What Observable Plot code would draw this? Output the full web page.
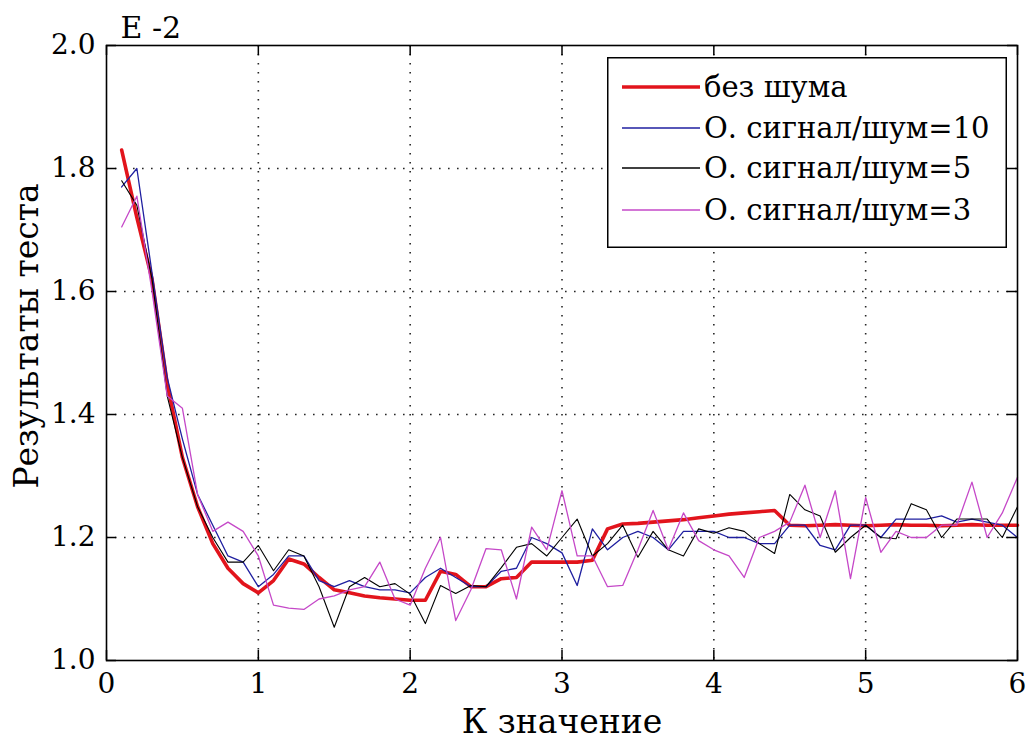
<!DOCTYPE html>
<html>
<head>
<meta charset="utf-8">
<script src="https://cdn.jsdelivr.net/npm/d3@7"></script>
<script src="https://cdn.jsdelivr.net/npm/@observablehq/plot@0.6"></script>
<style>
  html, body { margin: 0; padding: 0; background: #fff; }
  #wrap { position: relative; width: 1029px; height: 744px; }
  #legend { position: absolute; left: 607px; top: 57px; }
</style>
</head>
<body>
<div id="wrap"></div>
<script>
// ---- data ----
const xValues = [0.1,0.2,0.3,0.4,0.5,0.6,0.7,0.8,0.9,1.0,
  1.1,1.2,1.3,1.4,1.5,1.6,1.7,1.8,1.9,2.0,
  2.1,2.2,2.3,2.4,2.5,2.6,2.7,2.8,2.9,3.0,
  3.1,3.2,3.3,3.4,3.5,3.6,3.7,3.8,3.9,4.0,
  4.1,4.2,4.3,4.4,4.5,4.6,4.7,4.8,4.9,5.0,
  5.1,5.2,5.3,5.4,5.5,5.6,5.7,5.8,5.9,6.0];

const noNoise = [1.83,1.72,1.62,1.45,1.33,1.25,1.19,1.15,1.125,1.11,
  1.13,1.165,1.157,1.135,1.115,1.11,1.105,1.102,1.10,1.098,
  1.098,1.145,1.14,1.12,1.12,1.133,1.135,1.16,1.16,1.16,
  1.16,1.163,1.214,1.222,1.223,1.225,1.227,1.229,1.232,1.235,
  1.238,1.24,1.242,1.244,1.22,1.219,1.22,1.221,1.22,1.219,
  1.22,1.221,1.22,1.22,1.219,1.22,1.221,1.22,1.22,1.22];

const snr10 = [1.77,1.80,1.63,1.46,1.36,1.27,1.22,1.17,1.16,1.12,
  1.14,1.17,1.17,1.13,1.12,1.13,1.12,1.115,1.115,1.11,
  1.135,1.15,1.135,1.12,1.12,1.145,1.15,1.20,1.19,1.175,
  1.122,1.214,1.18,1.20,1.21,1.20,1.18,1.21,1.21,1.21,
  1.20,1.20,1.19,1.19,1.22,1.22,1.187,1.18,1.22,1.22,
  1.20,1.23,1.23,1.23,1.235,1.225,1.23,1.225,1.22,1.20];

const snr5 = [1.78,1.74,1.62,1.43,1.33,1.25,1.20,1.16,1.16,1.187,
  1.146,1.18,1.17,1.12,1.054,1.12,1.135,1.12,1.125,1.108,
  1.06,1.122,1.109,1.122,1.12,1.151,1.184,1.19,1.17,1.20,
  1.23,1.17,1.19,1.22,1.168,1.21,1.18,1.17,1.214,1.207,
  1.216,1.21,1.19,1.174,1.27,1.245,1.235,1.176,1.20,1.22,
  1.20,1.198,1.255,1.245,1.20,1.23,1.23,1.23,1.20,1.25];

const snr3 = [1.705,1.755,1.60,1.43,1.41,1.27,1.21,1.225,1.21,1.17,
  1.09,1.085,1.083,1.10,1.105,1.115,1.12,1.16,1.10,1.09,
  1.15,1.20,1.065,1.115,1.182,1.18,1.10,1.217,1.18,1.276,
  1.17,1.17,1.12,1.122,1.18,1.244,1.18,1.24,1.195,1.18,
  1.17,1.135,1.20,1.21,1.225,1.285,1.20,1.276,1.133,1.265,
  1.176,1.21,1.20,1.20,1.22,1.22,1.29,1.20,1.24,1.298];

const seriesNames = ["без шума", "О. сигнал/шум=10", "О. сигнал/шум=5", "О. сигнал/шум=3"];
const seriesValues = [noNoise, snr10, snr5, snr3];
const seriesColors = ["#e2141c", "#1f1fa0", "#000000", "#c548c8"];
const seriesWidths = [3.6, 1.3, 1.1, 1.3];

const xTicks = [0,1,2,3,4,5,6];
const yTicks = [1.0,1.2,1.4,1.6,1.8,2.0];
const xGrid = [1,2,3,4,5];
const yGrid = [1.2,1.4,1.6,1.8];

const xLabel = "К значение";
const yLabel = "Результаты теста";
const exponentLabel = "E -2";

// ---- layout ----
const W = 1029, H = 744;
const mL = 106, mR = 12, mT = 45, mB = 84;
const innerW = W - mL - mR, innerH = H - mT - mB;
const tickLen = 10;
const font = "'DejaVu Serif', serif";

const tables = seriesValues.map((vals, i) =>
  xValues.map((x, j) => ({x, y: vals[j], series: seriesNames[i]})));

const gridStyle = {stroke: "#000", strokeWidth: 1.6, strokeDasharray: "1.6,7.4", strokeOpacity: 0.85};

const chart = Plot.plot({
  width: W, height: H,
  marginLeft: mL, marginRight: mR, marginTop: mT, marginBottom: mB,
  style: {fontFamily: font, fontSize: "28px", color: "#000", background: "#fff"},
  x: {domain: [0, 6], ticks: xTicks},
  y: {domain: [1, 2], ticks: yTicks},
  marks: [
    Plot.ruleX(xGrid, gridStyle),
    Plot.ruleY(yGrid, gridStyle),
    ...tables.map((t, i) => Plot.line(t, {x: "x", y: "y", stroke: seriesColors[i], strokeWidth: seriesWidths[i], strokeLinejoin: "round"})),
    Plot.ruleX(xTicks, {stroke: "#000", strokeWidth: 1.5, insetTop: innerH - tickLen}),
    Plot.ruleX(xTicks, {stroke: "#000", strokeWidth: 1.5, insetBottom: innerH - tickLen}),
    Plot.ruleY(yTicks, {stroke: "#000", strokeWidth: 1.5, insetRight: innerW - tickLen}),
    Plot.ruleY(yTicks, {stroke: "#000", strokeWidth: 1.5, insetLeft: innerW - tickLen}),
    Plot.frame({stroke: "#000", strokeWidth: 1.6}),
    Plot.axisX(xTicks, {tickSize: 0, tickPadding: 13, tickFormat: d => String(d), label: null, fontSize: 28}),
    Plot.axisY(yTicks, {tickSize: 0, tickPadding: 11, tickFormat: d3.format(".1f"), label: null, fontSize: 28}),
    Plot.text([xLabel], {frameAnchor: "bottom", lineAnchor: "middle", dy: 62, fontSize: 33, fill: "#000"}),
    Plot.text([yLabel], {frameAnchor: "left", textAnchor: "middle", lineAnchor: "middle", dx: -79, dy: -17, rotate: -90, fontSize: 33, fill: "#000"}),
    Plot.text([exponentLabel], {frameAnchor: "top-left", textAnchor: "start", lineAnchor: "middle", dx: 14, dy: -17, fontSize: 30, fill: "#000"})
  ]
});

const wrap = document.getElementById("wrap");
wrap.appendChild(chart);

// ---- legend (overlay) ----
const LW = 400, LH = 191;
const legend = d3.create("svg")
  .attr("id", "legend")
  .attr("width", LW).attr("height", LH)
  .style("font-family", font)
  .style("font-size", "29px");
legend.append("rect")
  .attr("x", 0.75).attr("y", 0.75)
  .attr("width", LW - 1.5).attr("height", LH - 1.5)
  .attr("fill", "#fff").attr("stroke", "#000").attr("stroke-width", 1.5);
const rowY = [30, 71, 111, 153];
seriesNames.forEach((name, i) => {
  legend.append("line")
    .attr("x1", 15).attr("x2", 93)
    .attr("y1", rowY[i]).attr("y2", rowY[i])
    .attr("stroke", seriesColors[i])
    .attr("stroke-width", i === 0 ? 3.6 : 1.4);
  legend.append("text")
    .attr("x", 97).attr("y", rowY[i])
    .attr("dy", "0.33em")
    .attr("fill", "#000")
    .text(name);
});
wrap.appendChild(legend.node());
</script>
</body>
</html>
